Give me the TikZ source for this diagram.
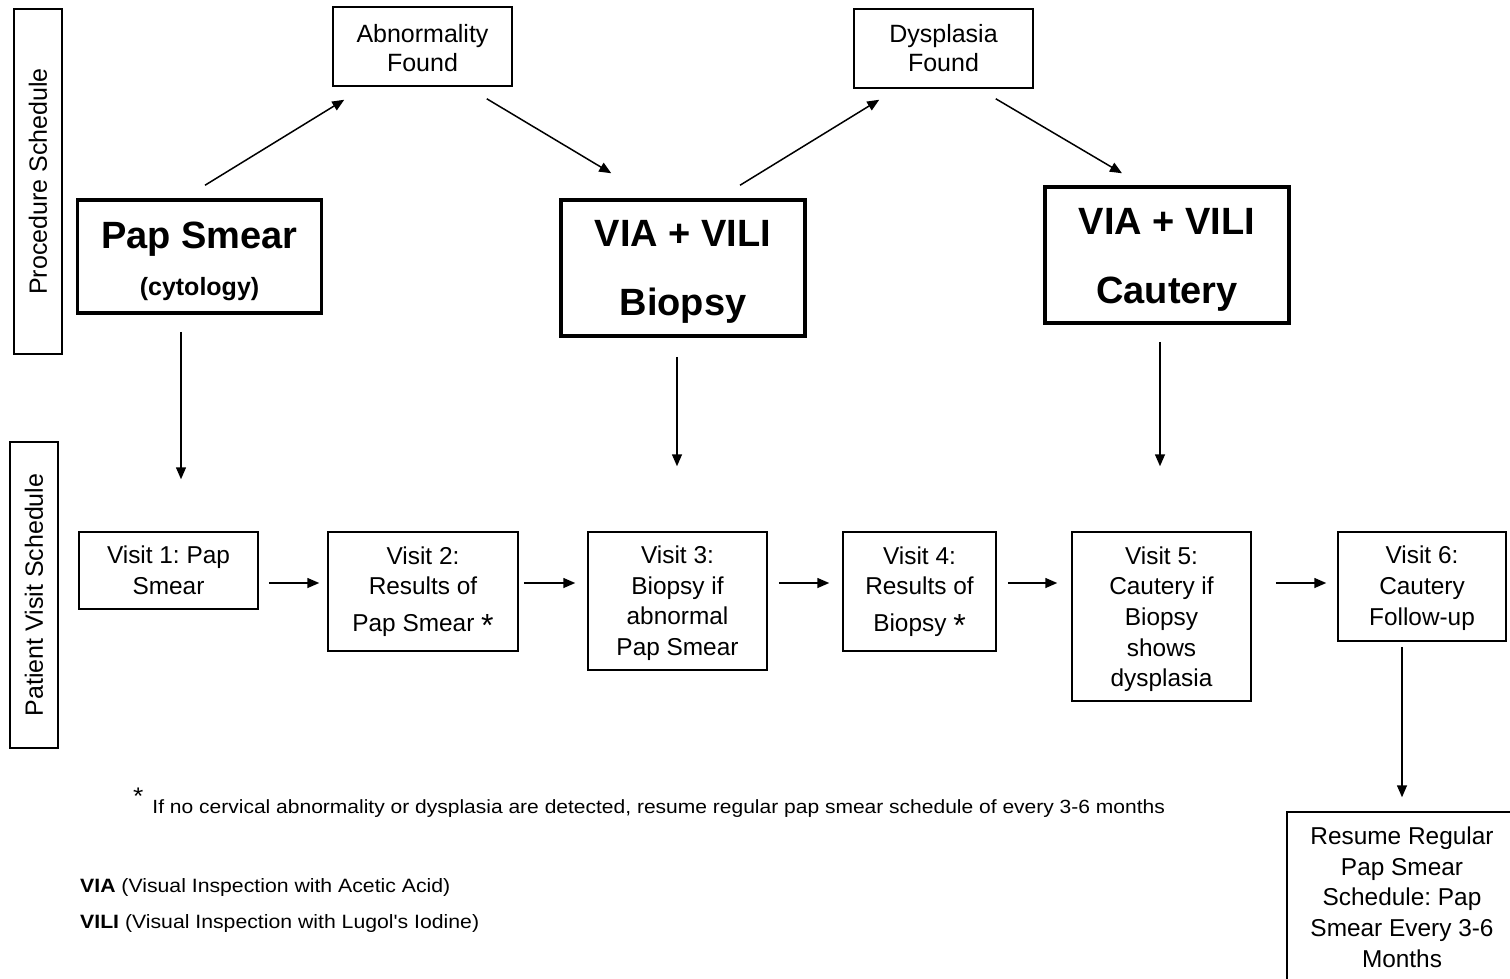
\documentclass[tikz,border=0pt]{standalone}
\usepackage{fontspec}
\setmainfont{Liberation Sans}
\newfontfamily\notefont[FakeStretch=1.1]{Liberation Sans}
\usetikzlibrary{arrows.meta}

\newcommand\astmark{\raisebox{-5pt}{\fontsize{32}{32}\selectfont *}}
\newcommand\toppad[1]{\rule{0pt}{#1}}

\begin{document}
\frenchspacing
\begin{tikzpicture}[x=1pt, y=-1pt,
  every node/.style={font=\fontsize{24}{30}\selectfont},
  sidebox/.style={draw, line width=1.5pt, rotate=90, minimum height=48pt, inner sep=0pt, font=\fontsize{25}{30}\selectfont},
  findbox/.style={draw, line width=1.5pt, minimum width=179pt, minimum height=79pt, align=center, inner sep=0pt, font=\fontsize{25}{29}\selectfont},
  procbox/.style={draw, line width=3.5pt, minimum width=244pt, align=center, inner sep=0pt, font=\bfseries\fontsize{38}{69}\selectfont},
  visitbox/.style={draw, line width=1.5pt, align=center, inner sep=0pt, font=\fontsize{24.4}{30.7}\selectfont},
  arr/.style={-{Triangle[length=12pt, width=10pt]}, line width=1.5pt},
  note/.style={anchor=base west, inner sep=0pt, font=\notefont\fontsize{19.3}{22}\selectfont}]
  \useasboundingbox (0,0) rectangle (1510,978);
  \clip (0,0) rectangle (1510,978);
  \fill[white] (0,0) rectangle (1510,978);
  \coordinate (row) at (0,583);
  % lane labels
  \node[sidebox, minimum width=345pt] (lane1) at (38,181.5) {Procedure Schedule};
  \node[sidebox, minimum width=306pt] (lane2) at (34,595) {Patient Visit Schedule};
  % findings
  \node[findbox] (abn) at (422.5,46.5) {\toppad{22pt}Abnormality\\Found};
  \node[findbox] (dys) at (943.5,48.5) {Dysplasia\\Found};
  % procedures
  \node[procbox, minimum height=113pt, font=\bfseries\fontsize{38}{47}\selectfont] (pap) at (199.5,256.5)
    {\toppad{37pt}Pap Smear\\{\fontsize{25}{30}\selectfont (cytology)}};
  \node[procbox, minimum height=136pt] (biopsy) at (683,268) {\toppad{34pt}VIA + VILI\\Biopsy};
  \node[procbox, minimum height=136pt] (cautery) at (1167,255) {\toppad{35pt}VIA + VILI\\Cautery};
  % visits
  \node[visitbox, minimum width=179pt, minimum height=77pt] (v1) at (168.5,570.5) {Visit 1: Pap\\Smear};
  \node[visitbox, minimum width=190pt, minimum height=119pt] (v2) at (423,591.5)
    {Visit 2:\\Results of\\[6pt]Pap Smear \astmark};
  \node[visitbox, minimum width=179pt, minimum height=138pt] (v3) at (677.5,601)
    {\toppad{22pt}Visit 3:\\Biopsy if\\abnormal\\Pap Smear};
  \node[visitbox, minimum width=153pt, minimum height=119pt] (v4) at (919.5,591.5)
    {Visit 4:\\Results of\\[6pt]Biopsy \astmark};
  \node[visitbox, minimum width=179pt, minimum height=169pt] (v5) at (1161.5,616.5)
    {\toppad{23pt}Visit 5:\\Cautery if\\Biopsy\\shows\\dysplasia};
  \node[visitbox, minimum width=168pt, minimum height=109pt] (v6) at (1422,586.5)
    {\toppad{21pt}Visit 6:\\Cautery\\Follow-up};
  \node[visitbox, minimum width=230pt, minimum height=170pt] (resume) at (1402,897)
    {Resume Regular\\Pap Smear\\Schedule: Pap\\Smear Every 3-6\\Months};
  % procedure arrows
  \draw[arr] ([xshift=5.5pt, yshift=13pt]pap.north) -- ([xshift=12pt, yshift=-13pt]abn.south west);
  \draw[arr] ([xshift=-26pt, yshift=-12pt]abn.south east) -- ([xshift=52pt, yshift=25pt]biopsy.north west);
  \draw[arr] ([xshift=57pt, yshift=13pt]biopsy.north) -- ([xshift=26pt, yshift=-11pt]dys.south west);
  \draw[arr] ([xshift=-38pt, yshift=-10pt]dys.south east) -- ([xshift=-45pt, yshift=12pt]cautery.north);
  % down to the visits
  \draw[arr] ([xshift=-18.5pt, yshift=-17pt]pap.south) -- ([xshift=12.5pt, yshift=52pt]v1.north);
  \draw[arr] ([xshift=-6pt, yshift=-19pt]biopsy.south) -- ([xshift=-0.5pt, yshift=65pt]v3.north);
  \draw[arr] ([xshift=-7pt, yshift=-17pt]cautery.south) -- ([xshift=-1.5pt, yshift=65pt]v5.north);
  % visit sequence
  \draw[arr, shorten <=10pt, shorten >=8pt] (v1.east |- row) -- (v2.west |- row);
  \draw[arr, shorten <=5pt, shorten >=12pt] (v2.east |- row) -- (v3.west |- row);
  \draw[arr, shorten <=11pt, shorten >=13pt] (v3.east |- row) -- (v4.west |- row);
  \draw[arr, shorten <=11pt, shorten >=14pt] (v4.east |- row) -- (v5.west |- row);
  \draw[arr, shorten <=24pt, shorten >=11pt] (v5.east |- row) -- (v6.west |- row);
  \draw[arr, shorten <=5pt, shorten >=14pt] (resume.north |- v6.south) -- (resume.north);
  % notes
  \node[note, font=\notefont\fontsize{19.1}{22}\selectfont] (foot) at (133,813)
    {\raisebox{9pt}{\fontsize{24}{24}\selectfont *}\hspace{9pt}If no cervical abnormality or dysplasia are detected, resume regular pap smear schedule of every 3-6 months};
  \node[note] (via) at (80,892) {\textbf{VIA} (Visual Inspection with Acetic Acid)};
  \node[note] (vili) at (80,928) {\textbf{VILI} (Visual Inspection with Lugol's Iodine)};
\end{tikzpicture}
\end{document}
